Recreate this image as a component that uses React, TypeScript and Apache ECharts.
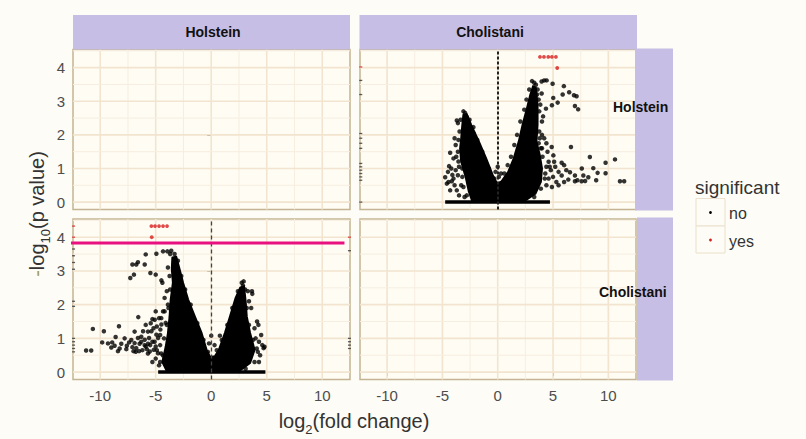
import React, { useEffect, useRef } from "react";
import * as echarts from "echarts";

const FONT = '"Liberation Sans", Arial, sans-serif';

// axes
const X_RANGE = [-12.45, 12.5];
const Y_RANGE = [-0.22, 4.54];
const X_TICKS = [-10, -5, 0, 5, 10];
const X_MINOR = [-7.5, -2.5, 2.5, 7.5];
const Y_TICKS = [0, 1, 2, 3, 4];
const Y_MINOR = [0.5, 1.5, 2.5, 3.5, 4.5];

// facet labels
const COL_STRIPS = ["Holstein", "Cholistani"];
const ROW_STRIPS = ["Holstein", "Cholistani"];
const LEGEND_TITLE = "significant";
const LEGEND_LABELS = ["no", "yes"];

// ---- panel: column Cholistani / row Holstein ----
const chHoDense = [
  [-2.3, 0.03], [-2.6, 0.3], [-2.9, 0.75], [-3.3, 1.2], [-3.4, 1.6], [-3.3, 1.9], [-3.2, 2.3],
  [-3.1, 2.6], [-2.8, 2.62], [-2.4, 2.3], [-1.7, 1.8], [-1.05, 1.3], [-0.45, 0.8], [-0.05, 0.55],
  [0.35, 0.62], [0.95, 0.9], [1.45, 1.3], [1.9, 1.8], [2.25, 2.3], [2.65, 2.8], [2.95, 3.2],
  [3.2, 3.45], [3.45, 3.4], [3.6, 2.9], [3.6, 2.3], [3.5, 1.8], [3.8, 1.4], [4.0, 1.0],
  [3.9, 0.6], [3.4, 0.25], [2.4, 0.03],
];
const chHoBase = [[-4.75, 0], [4.72, 0]];
const chHoNo = [
  [3.45, 3.49], [3.97, 3.59], [4.2, 3.62], [4.42, 3.62], [4.96, 3.52], [5.98, 3.45], [6.46, 3.27],
  [6.89, 3.18], [7.13, 3.15], [5.87, 3.2], [5.02, 3.1], [5.42, 2.96], [4.9, 2.88], [6.98, 2.86],
  [7.27, 2.76], [3.97, 3.23], [4.36, 2.78], [4.1, 2.55], [3.85, 2.9], [3.7, 3.05], [4.0, 2.4],
  [3.3, 3.55], [3.6, 3.35],
  [6.62, 1.64], [8.33, 1.34], [9.75, 1.17], [10.6, 1.27], [11.05, 0.62], [11.43, 0.62], [9.03, 0.87],
  [9.75, 0.86], [8.64, 1.01], [8.19, 0.74], [7.58, 0.62], [6.98, 0.62], [6.38, 0.67], [6.53, 0.89],
  [5.78, 1.17], [5.03, 1.39], [4.88, 1.64], [5.78, 0.79], [6.98, 0.79], [7.74, 0.79], [4.5, 1.5],
  [4.6, 1.2], [5.2, 1.05], [5.5, 0.9], [5.0, 0.75], [4.6, 0.7], [5.3, 0.6], [6.0, 0.6], [7.2, 0.65],
  [7.9, 0.63], [4.4, 1.75], [4.2, 1.9], [5.1, 1.2], [6.2, 0.95], [6.0, 1.1], [4.8, 0.95], [4.4, 0.5],
  [5.5, 0.5], [4.9, 0.45], [3.9, 1.6], [4.0, 2.0], [8.9, 0.65], [7.6, 1.0], [4.3, 0.85], [4.7, 1.05],
  [-4.3, 1.47], [-4.4, 1.07], [-4.75, 0.74], [-4.45, 0.6], [-3.7, 0.35], [-3.55, 1.21], [-4.1, 0.81],
  [-4.6, 0.55], [-4.15, 0.62], [-3.7, 2.43], [-3.6, 2.35], [-3.1, 2.7], [-2.8, 2.53], [-2.7, 2.28],
  [-2.2, 2.23], [-3.9, 1.9], [-3.8, 1.7], [-4.0, 1.3], [-3.3, 0.5], [-3.9, 0.5], [-3.6, 0.8],
  [-3.2, 1.0], [-4.5, 0.9], [-2.0, 0.35], [-1.5, 0.6], [-3.5, 0.2], [-3.0, 0.15],
  [0.0, 1.05], [-0.2, 0.9], [0.3, 0.85], [0.1, 0.75], [-0.3, 0.7],
  // fringe of the dense arms
  [-3.35, 2.45], [-3.45, 2.1], [-3.55, 1.85], [-3.6, 1.5], [-3.75, 1.35], [-3.5, 1.05], [-3.2, 0.75],
  [-3.1, 0.45], [-2.8, 0.2], [-2.95, 2.65], [-2.55, 2.45], [-2.2, 2.05], [-1.85, 1.85], [-1.4, 1.5],
  [-1.2, 1.2], [-0.8, 1.0], [-0.6, 0.75], [-3.05, 1.5], [-2.7, 1.1], [-4.2, 1.0], [-4.0, 0.7],
  [-3.8, 0.95], [-4.3, 0.35], [-2.6, 0.55],
  [0.6, 0.85], [0.9, 1.1], [1.2, 1.35], [1.5, 1.7], [1.75, 2.0], [2.05, 2.4], [2.4, 2.75],
  [2.6, 3.05], [2.85, 3.35], [3.1, 3.6], [3.55, 3.2], [3.75, 2.7], [3.75, 2.1], [3.7, 1.75],
  [4.05, 1.35], [4.4, 1.05], [4.25, 0.7], [3.9, 0.4], [3.3, 0.15], [3.8, 1.9], [4.0, 1.6],
];
const chHoYes = [[3.82, 4.32], [4.18, 4.32], [4.57, 4.32], [4.9, 4.32], [5.26, 4.32], [5.38, 3.99]];
const chHoEdgeNo = [
  [-12.38, 3.62], [-12.38, 3.2], [-12.38, 2.04], [-12.38, 1.9], [-12.38, 1.75], [-12.38, 1.6],
  [-12.38, 1.15], [-12.38, 1.05], [-12.38, 0.95], [-12.38, 0.85], [-12.38, 0.75], [-12.38, 0.65],
  [-12.38, 0.0],
];
const chHoEdgeYes = [[-12.38, 4.02]];

// ---- panel: column Holstein / row Cholistani ----
const hoChDense = [
  [-4.0, 0.03], [-4.4, 0.3], [-4.1, 0.75], [-3.9, 1.15], [-3.75, 1.65], [-3.65, 2.15],
  [-3.45, 2.65], [-3.55, 3.05], [-3.5, 3.4], [-3.15, 3.42], [-2.85, 3.05], [-2.53, 2.64],
  [-2.08, 2.15], [-1.48, 1.65], [-0.87, 1.16], [-0.42, 0.66], [-0.1, 0.45], [0.33, 0.47],
  [0.69, 0.66], [1.23, 1.16], [1.69, 1.65], [2.2, 2.2], [2.6, 2.5], [2.95, 2.55], [3.1, 2.1],
  [3.2, 1.65], [3.5, 1.16], [3.9, 0.66], [3.5, 0.27], [2.5, 0.03],
];
const hoChBase = [[-4.78, 0], [4.88, 0]];
const hoChNo = [
  [-4.34, 3.58], [-4.94, 3.51], [-3.95, 3.58], [-3.6, 3.6], [-5.9, 3.49], [-6.6, 3.26], [-5.99, 3.19],
  [-7.1, 3.19], [-6.75, 3.19], [-6.96, 2.89], [-7.29, 2.79], [-5.48, 2.94], [-5.0, 2.89], [-4.49, 2.72],
  [-4.4, 2.65], [-3.9, 3.1], [-4.0, 2.4], [-3.9, 2.0], [-4.2, 1.8],
  [-10.66, 1.28], [-11.27, 0.64], [-10.81, 0.64], [-9.67, 1.21], [-9.82, 0.88], [-8.31, 1.36],
  [-8.61, 1.04], [-8.92, 0.88], [-8.7, 0.78], [-9.0, 0.73], [-8.25, 0.7], [-8.1, 0.84], [-7.65, 0.68],
  [-7.4, 0.88], [-7.1, 0.74], [-6.9, 0.86], [-6.6, 1.01], [-6.75, 0.71], [-6.45, 0.84], [-6.57, 1.63],
  [-6.14, 1.21], [-5.99, 0.96], [-5.9, 0.76], [-5.6, 1.01], [-5.39, 1.21], [-5.3, 1.57], [-5.09, 1.55],
  [-5.0, 0.76], [-4.79, 1.01], [-4.58, 1.26], [-4.34, 1.8], [-4.49, 1.41], [-5.18, 0.66], [-5.54, 0.61],
  [-5.69, 0.84], [-4.94, 1.11], [-4.1, 1.46], [-4.79, 0.56], [-4.34, 0.49], [-6.2, 0.65], [-5.8, 0.68],
  [-5.3, 0.9], [-4.6, 0.8], [-4.9, 0.65], [-6.3, 0.9], [-5.2, 1.3], [-4.7, 1.6], [-4.6, 0.3],
  [-7.8, 1.0], [-7.2, 0.95], [-6.8, 0.6], [-6.0, 0.8], [-5.7, 1.2], [-5.5, 0.8], [-5.1, 0.9],
  [-4.9, 1.35], [-4.6, 1.1], [-6.3, 1.05], [-7.0, 0.62], [-7.6, 0.78], [-8.4, 0.62], [-9.3, 0.85],
  [-5.9, 1.4], [-6.9, 1.2], [-5.45, 1.45], [-5.0, 1.8], [-5.7, 0.55], [-6.5, 0.62],
  [2.92, 2.69], [2.86, 2.56], [3.67, 2.4], [3.7, 2.32], [2.65, 2.3], [4.13, 1.5], [4.25, 1.4],
  [4.72, 0.71], [4.6, 0.8], [4.8, 0.75], [4.3, 0.9], [4.0, 1.0], [4.2, 0.6], [3.9, 1.3], [4.5, 1.1],
  [3.6, 1.9], [3.4, 2.1], [4.4, 0.5], [3.3, 2.4],
  [0.0, 1.08], [0.78, 1.08], [-0.2, 0.85], [0.3, 0.8],
  // fringe of the dense arms
  [-3.7, 3.5], [-3.3, 3.5], [-3.0, 3.3], [-3.75, 2.85], [-3.7, 2.45], [-3.85, 1.9], [-4.0, 1.4],
  [-4.25, 1.0], [-4.5, 0.55], [-4.7, 0.2], [-2.7, 2.85], [-2.35, 2.45], [-1.85, 2.0], [-1.25, 1.45],
  [-0.7, 0.95], [-0.3, 0.6], [-4.2, 2.2], [-4.5, 1.6], [-5.0, 0.4], [-5.3, 0.3],
  [0.5, 0.65], [0.95, 0.95], [1.45, 1.4], [1.9, 1.9], [2.4, 2.4], [2.75, 2.65], [3.05, 2.45],
  [3.2, 1.9], [3.4, 1.4], [3.75, 0.95], [4.1, 0.7], [3.9, 0.3], [3.1, 0.1], [4.3, 0.3],
];
const hoChYes = [[-5.39, 4.33], [-5.06, 4.33], [-4.7, 4.33], [-4.34, 4.33], [-3.98, 4.33], [-5.36, 4.0]];
const hoChEdgeNo = [
  [-12.4, 3.83], [-12.4, 3.65], [-12.4, 3.45], [-12.4, 3.25], [-12.4, 3.05], [-12.4, 2.1], [-12.4, 1.95],
  [-12.4, 1.0], [-12.4, 0.9], [-12.4, 0.8], [-12.4, 0.7], [-12.4, 0.6],
  [12.45, 3.6], [12.45, 1.0], [12.45, 0.9], [12.45, 0.8], [12.45, 0.7],
];
const hoChEdgeYes = [[-12.4, 4.33], [-12.4, 4.0], [12.45, 4.0]];

// annotation line drawn on the lower-left panel
const thresholdLine = [[-14.95, 3.83], [12.0, 3.83]];

// ---- styling ----
const PAGE_BG = "#fdfcf6";
const PANEL_BG = "#fefcf3";
const BORDER = "#c4b493";
const MAJOR = "#f2e4cf";
const MINOR = "#f7eee0";
const STRIP = "#c6bee4";
const RED = "#d81e1e";

const GRIDS = [
  { left: 73, top: 49.5, width: 277, height: 160 },
  { left: 360, top: 49.5, width: 276, height: 160 },
  { left: 73, top: 219, width: 277, height: 160.5 },
  { left: 360, top: 219, width: 276, height: 160.5 },
];

function gridLineData() {
  return [
    ...X_TICKS.map((v) => [v, 0]),
    ...X_MINOR.map((v) => [v, 1]),
    ...Y_TICKS.map((v) => [v, 2]),
    ...Y_MINOR.map((v) => [v, 3]),
  ];
}

const gridRender = (params: any, api: any) => {
  const v = api.value(0);
  const kind = api.value(1);
  const cs = params.coordSys;
  const major = kind === 0 || kind === 2;
  const style = { stroke: major ? MAJOR : MINOR, lineWidth: major ? 1.6 : 1 };
  if (kind < 2) {
    const x = api.coord([v, 0])[0];
    return { type: "line", shape: { x1: x, y1: cs.y, x2: x, y2: cs.y + cs.height }, style };
  }
  const y = api.coord([0, v])[1];
  return { type: "line", shape: { x1: cs.x, y1: y, x2: cs.x + cs.width, y2: y }, style };
};

const polyRender = (params: any, api: any, pts: number[][]) => {
  if (params.dataIndex !== 0) return { type: "group", children: [] };
  return {
    type: "polygon",
    shape: { points: pts.map((p) => api.coord(p)) },
    style: { fill: "#000", stroke: "#000", lineWidth: 2, lineJoin: "round" },
  };
};

function panelSeries(gi: number, dense: number[][], base: number[][], no: number[][], yes: number[][],
  edgeNo: number[][], edgeYes: number[][], dash: { width: number; type: number[]; color: string }) {
  return [
    {
      type: "custom", xAxisIndex: gi, yAxisIndex: gi, z: 3, silent: true,
      data: dense, renderItem: (p: any, a: any) => polyRender(p, a, dense),
    },
    {
      type: "line", xAxisIndex: gi, yAxisIndex: gi, z: 3, silent: true, data: base,
      symbol: "none", lineStyle: { color: "#000", width: 3.5 },
      markLine: {
        silent: true, symbol: ["none", "none"], label: { show: false },
        lineStyle: { color: dash.color, width: dash.width, type: dash.type },
        data: [{ xAxis: 0 }],
      },
    },
    {
      type: "scatter", xAxisIndex: gi, yAxisIndex: gi, z: 4, silent: true, data: no,
      symbol: "circle", symbolSize: 4.5, itemStyle: { color: "#000" },
    },
    {
      type: "scatter", xAxisIndex: gi, yAxisIndex: gi, z: 4, silent: true, data: edgeNo,
      symbol: "rect", symbolSize: [3, 1.3], itemStyle: { color: "#333" },
    },
    {
      type: "scatter", xAxisIndex: gi, yAxisIndex: gi, z: 5, silent: true, data: edgeYes,
      symbol: "rect", symbolSize: [3, 1.3], itemStyle: { color: RED },
    },
    {
      type: "scatter", xAxisIndex: gi, yAxisIndex: gi, z: 5, silent: true, data: yes,
      symbol: "circle", symbolSize: 3.8, itemStyle: { color: RED },
    },
  ];
}

export default function App() {
  const ref = useRef<HTMLDivElement>(null);
  useEffect(() => {
    if (!ref.current) return;
    const chart = echarts.init(ref.current, null, { renderer: "svg" });

    const xAxes = GRIDS.map((_, gi) => {
      const show = gi >= 2;
      return {
        type: "value", gridIndex: gi, min: X_RANGE[0], max: X_RANGE[1],
        axisLine: { show: false }, splitLine: { show: false },
        axisTick: { show, customValues: X_TICKS, length: 4, lineStyle: { color: "#555", width: 1 } },
        axisLabel: { show, customValues: X_TICKS, margin: 8, fontSize: 15, color: "#4d4d4d", fontFamily: FONT },
      };
    });
    const yAxes = GRIDS.map((_, gi) => {
      const show = gi % 2 === 0;
      return {
        type: "value", gridIndex: gi, min: Y_RANGE[0], max: Y_RANGE[1],
        axisLine: { show: false }, splitLine: { show: false },
        axisTick: { show, customValues: Y_TICKS, length: 4, lineStyle: { color: "#555", width: 1 } },
        axisLabel: { show, customValues: Y_TICKS, margin: 8, fontSize: 15, color: "#4d4d4d", fontFamily: FONT },
      };
    });

    const gridSeries = GRIDS.map((_, gi) => ({
      type: "custom", xAxisIndex: gi, yAxisIndex: gi, z: 1, silent: true,
      data: gridLineData(), renderItem: gridRender,
    }));

    const sub = { fontSize: 13, lineHeight: 13, verticalAlign: "bottom", fill: "#333", color: "#333", fontFamily: FONT };
    const main = { fontSize: 20, lineHeight: 29, fill: "#333", color: "#333", fontFamily: FONT };

    const stripText = (x: number, y: number, text: string, align: string) => ({
      type: "text", x, y, z: 20,
      style: { text, font: `bold 14px ${FONT}`, fill: "#111", align, verticalAlign: "middle" },
    });

    chart.setOption({
      animation: false,
      backgroundColor: PAGE_BG,
      grid: GRIDS.map((g) => ({
        ...g, show: true, backgroundColor: PANEL_BG, borderColor: BORDER, borderWidth: 1.5, containLabel: false,
      })),
      xAxis: xAxes,
      yAxis: yAxes,
      series: [
        ...gridSeries,
        ...panelSeries(1, chHoDense, chHoBase, chHoNo, chHoYes, chHoEdgeNo, chHoEdgeYes,
          { width: 2, type: [3, 2], color: "#222" }),
        ...panelSeries(2, hoChDense, hoChBase, hoChNo, hoChYes, hoChEdgeNo, hoChEdgeYes,
          { width: 1.3, type: [4, 3], color: "#444" }),
        {
          type: "line", xAxisIndex: 2, yAxisIndex: 2, z: 10, silent: true, clip: false,
          data: thresholdLine, symbol: "none", lineStyle: { color: "#e8117f", width: 3 },
        },
      ],
      graphic: [
        { type: "rect", z: 15, shape: { x: 73, y: 15, width: 277, height: 34.5 }, style: { fill: STRIP } },
        { type: "rect", z: 15, shape: { x: 359.5, y: 15, width: 277.5, height: 34.5 }, style: { fill: STRIP } },
        { type: "rect", z: 15, shape: { x: 635, y: 48.5, width: 38, height: 162 }, style: { fill: STRIP } },
        { type: "rect", z: 15, shape: { x: 637, y: 217.5, width: 36, height: 163 }, style: { fill: STRIP } },
        stripText(213, 31.5, COL_STRIPS[0], "center"),
        stripText(490, 32, COL_STRIPS[1], "center"),
        stripText(613, 107, ROW_STRIPS[0], "left"),
        stripText(599, 292, ROW_STRIPS[1], "left"),
        {
          type: "text", x: 354, y: 421, z: 20,
          style: {
            text: "{t|log}{s|2}{t|(fold change)}", align: "center", verticalAlign: "middle",
            rich: { t: main, s: sub },
          },
        },
        {
          type: "text", x: 37, y: 214, z: 0, rotation: Math.PI / 2,
          style: {
            text: "{m|-}{t|log}{s|10}{t|(p value)}", align: "center", verticalAlign: "middle",
            rich: { t: main, s: sub, m: { ...main, fill: "#a09a5c", color: "#a09a5c" } },
          },
        },
        {
          type: "text", x: 695, y: 187, z: 20,
          style: { text: LEGEND_TITLE, fontSize: 19, fontFamily: FONT, fill: "#333", align: "left", verticalAlign: "middle" },
        },
        { type: "rect", z: 20, shape: { x: 696, y: 198.5, width: 29, height: 27.5 }, style: { fill: PAGE_BG, stroke: "#ebe0cc", lineWidth: 1 } },
        { type: "rect", z: 20, shape: { x: 696, y: 226, width: 29, height: 27 }, style: { fill: PAGE_BG, stroke: "#ebe0cc", lineWidth: 1 } },
        { type: "circle", z: 21, shape: { cx: 710.5, cy: 212.5, r: 1.4 }, style: { fill: "#000" } },
        { type: "circle", z: 21, shape: { cx: 710.5, cy: 240, r: 1.4 }, style: { fill: RED } },
        {
          type: "text", x: 729, y: 213, z: 20,
          style: { text: LEGEND_LABELS[0], fontSize: 16, fontFamily: FONT, fill: "#333", align: "left", verticalAlign: "middle" },
        },
        {
          type: "text", x: 729, y: 241, z: 20,
          style: { text: LEGEND_LABELS[1], fontSize: 16, fontFamily: FONT, fill: "#333", align: "left", verticalAlign: "middle" },
        },
      ],
    });
    return () => chart.dispose();
  }, []);
  return (
    <div
      ref={ref}
      style={{ position: "fixed", left: 0, top: 0, width: 806, height: 439, background: PAGE_BG }}
    />
  );
}
